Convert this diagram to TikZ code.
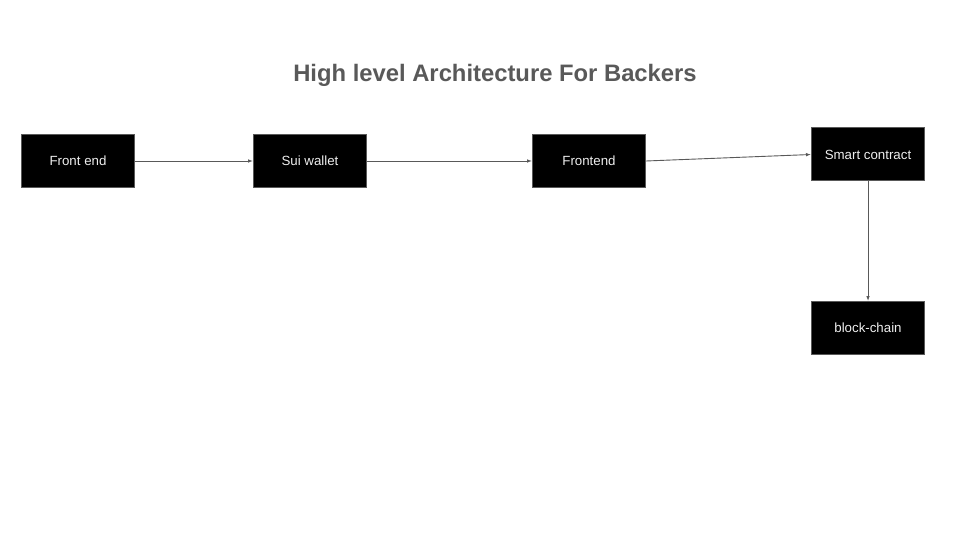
\documentclass[tikz,border=0pt]{standalone}
\usepackage{fontspec}
\setmainfont{Liberation Sans}
\usetikzlibrary{arrows.meta}
\definecolor{edgegray}{HTML}{595959}
\definecolor{boxtext}{HTML}{EEEEEE}
\begin{document}
\begin{tikzpicture}[x=1pt,y=-1pt,
  box/.style={draw=edgegray, line width=1pt, fill=black, text=boxtext,
    minimum width=113pt, minimum height=53pt, inner sep=0pt,
    font=\fontsize{13.3}{15}\selectfont},
  conn/.style={draw=edgegray, line width=0.9pt, -{Latex[length=5pt,width=3.6pt]}}]
\useasboundingbox[fill=white] (0,0) rectangle (960,540);
\node[font=\bfseries\fontsize{23.8}{28}\selectfont, text=edgegray] (title) at (495,75.5) {High level Architecture For Backers};
\node[box] (fe) at (78,161) {Front end};
\node[box] (sui) at (310,161) {Sui wallet};
\node[box] (fe2) at (589,161) {Frontend};
\node[box] (sc) at (868,154.5) {Smart contract};
\node[box] (bc) at (868,328) {block-chain};
\draw[conn] (fe) -- (sui);
\draw[conn] (sui) -- (fe2);
\draw[conn] (fe2.east) -- (sc.west);
\draw[conn] (sc) -- (bc);
\end{tikzpicture}
\end{document}
